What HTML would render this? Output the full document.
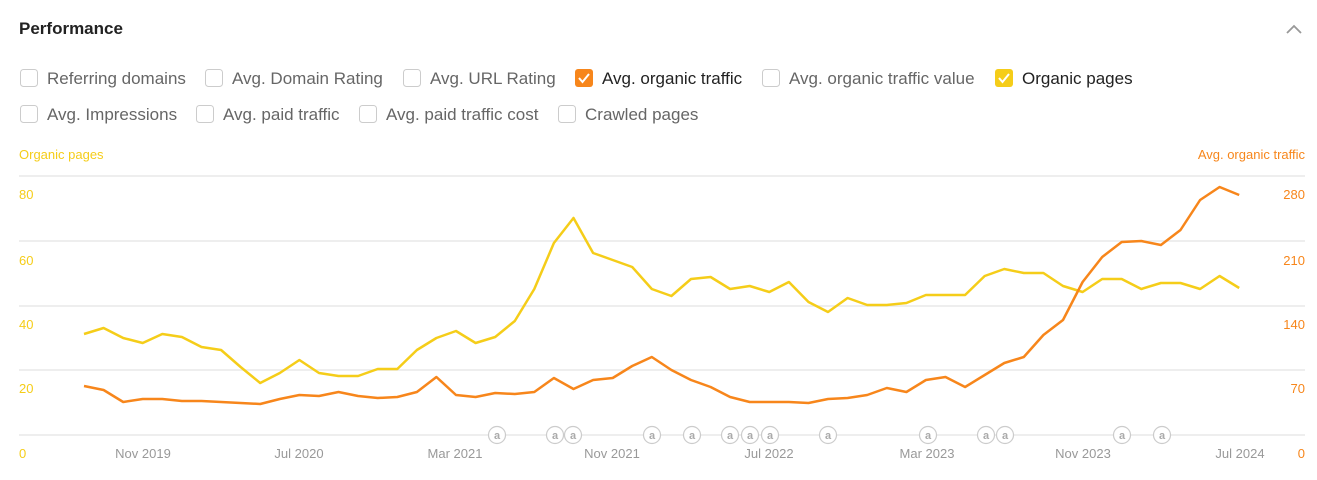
<!DOCTYPE html>
<html><head><meta charset="utf-8"><style>
body{margin:0;background:#fff;width:1317px;height:475px;overflow:hidden;font-family:"Liberation Sans",Arial,sans-serif}
</style></head><body>
<svg width="1317" height="475" xmlns="http://www.w3.org/2000/svg" font-family="Liberation Sans, Arial, sans-serif">
<text x="19" y="34" font-size="17" font-weight="bold" fill="#222">Performance</text>
<polyline points="1287,33 1294,26 1301,33" fill="none" stroke="#999" stroke-width="1.8"/>
<g font-size="17" fill="#666">
<rect x="20.5" y="69.5" width="17" height="17" rx="3" fill="#fff" stroke="#ccc"/><text x="47" y="84">Referring domains</text>
<rect x="205.5" y="69.5" width="17" height="17" rx="3" fill="#fff" stroke="#ccc"/><text x="232" y="84">Avg. Domain Rating</text>
<rect x="403.5" y="69.5" width="17" height="17" rx="3" fill="#fff" stroke="#ccc"/><text x="430" y="84">Avg. URL Rating</text>
<rect x="575" y="69" width="18" height="18" rx="3" fill="#f7861b"/><polyline points="579,78 582.5,82 589,74" fill="none" stroke="#fff" stroke-width="2"/><text x="602" y="84" fill="#222">Avg. organic traffic</text>
<rect x="762.5" y="69.5" width="17" height="17" rx="3" fill="#fff" stroke="#ccc"/><text x="789" y="84">Avg. organic traffic value</text>
<rect x="995" y="69" width="18" height="18" rx="3" fill="#f5cd19"/><polyline points="999,78 1002.5,82 1009,74" fill="none" stroke="#fff" stroke-width="2"/><text x="1022" y="84" fill="#222">Organic pages</text>
<rect x="20.5" y="105.5" width="17" height="17" rx="3" fill="#fff" stroke="#ccc"/><text x="47" y="120">Avg. Impressions</text>
<rect x="196.5" y="105.5" width="17" height="17" rx="3" fill="#fff" stroke="#ccc"/><text x="223" y="120">Avg. paid traffic</text>
<rect x="359.5" y="105.5" width="17" height="17" rx="3" fill="#fff" stroke="#ccc"/><text x="386" y="120">Avg. paid traffic cost</text>
<rect x="558.5" y="105.5" width="17" height="17" rx="3" fill="#fff" stroke="#ccc"/><text x="585" y="120">Crawled pages</text>
</g>
<text x="19" y="159" font-size="13" fill="#f5cd19">Organic pages</text>
<text x="1305" y="159" font-size="13" fill="#f7861b" text-anchor="end">Avg. organic traffic</text>
<g stroke="#e8e8e8" stroke-width="1.5">
<line x1="19" y1="176" x2="1305" y2="176"/><line x1="19" y1="241" x2="1305" y2="241"/><line x1="19" y1="306" x2="1305" y2="306"/><line x1="19" y1="370" x2="1305" y2="370"/><line x1="19" y1="435" x2="1305" y2="435"/>
</g>
<g font-size="13" fill="#f5cd19">
<text x="19" y="199">80</text><text x="19" y="265">60</text><text x="19" y="329">40</text><text x="19" y="393">20</text><text x="19" y="458">0</text>
</g>
<g font-size="13" fill="#f7861b" text-anchor="end">
<text x="1305" y="199">280</text><text x="1305" y="265">210</text><text x="1305" y="329">140</text><text x="1305" y="393">70</text><text x="1305" y="458">0</text>
</g>
<g font-size="13" fill="#999" text-anchor="middle">
<text x="143" y="458">Nov 2019</text><text x="299" y="458">Jul 2020</text><text x="455" y="458">Mar 2021</text><text x="612" y="458">Nov 2021</text><text x="769" y="458">Jul 2022</text><text x="927" y="458">Mar 2023</text><text x="1083" y="458">Nov 2023</text><text x="1240" y="458">Jul 2024</text>
</g>
<g font-size="11" font-weight="bold" fill="#aaa" text-anchor="middle">
<g stroke="#ccc" stroke-width="1.2" fill="#fff">
<circle cx="497" cy="435" r="8.5"/><circle cx="555" cy="435" r="8.5"/><circle cx="573" cy="435" r="8.5"/><circle cx="652" cy="435" r="8.5"/><circle cx="692" cy="435" r="8.5"/><circle cx="730" cy="435" r="8.5"/><circle cx="750" cy="435" r="8.5"/><circle cx="770" cy="435" r="8.5"/><circle cx="828" cy="435" r="8.5"/><circle cx="928" cy="435" r="8.5"/><circle cx="986" cy="435" r="8.5"/><circle cx="1005" cy="435" r="8.5"/><circle cx="1122" cy="435" r="8.5"/><circle cx="1162" cy="435" r="8.5"/>
</g>
<text x="497" y="439">a</text><text x="555" y="439">a</text><text x="573" y="439">a</text><text x="652" y="439">a</text><text x="692" y="439">a</text><text x="730" y="439">a</text><text x="750" y="439">a</text><text x="770" y="439">a</text><text x="828" y="439">a</text><text x="928" y="439">a</text><text x="986" y="439">a</text><text x="1005" y="439">a</text><text x="1122" y="439">a</text><text x="1162" y="439">a</text>
</g>
<polyline fill="none" stroke="#f5cd19" stroke-width="2.5" stroke-linejoin="round" points="84,334 103.6,328 123.2,338 142.7,343 162.3,334 181.9,337 201.5,347 221.1,350 240.6,367 260.2,383 279.8,373 299.4,360 319,373 338.5,376 358.1,376 377.7,369 397.3,369 416.9,350 436.4,338 456,331 475.6,343 495.2,337 514.8,321 534.3,289 553.9,243 573.5,218 593.1,253 612.7,260 632.2,267 651.8,289 671.4,296 691,279 710.6,277 730.1,289 749.7,286 769.3,292 788.9,282 808.5,302 828,312 847.6,298 867.2,305 886.8,305 906.4,303 925.9,295 945.5,295 965.1,295 984.7,276 1004.3,269 1023.8,273 1043.4,273 1063,286 1082.6,292 1102.2,279 1121.7,279 1141.3,289 1160.9,283 1180.5,283 1200.1,289 1219.6,276 1239.2,288"/>
<polyline fill="none" stroke="#f7861b" stroke-width="2.5" stroke-linejoin="round" points="84,386 103.6,390 123.2,402 142.7,399 162.3,399 181.9,401 201.5,401 221.1,402 240.6,403 260.2,404 279.8,399 299.4,395 319,396 338.5,392 358.1,396 377.7,398 397.3,397 416.9,392 436.4,377 456,395 475.6,397 495.2,393 514.8,394 534.3,392 553.9,378 573.5,389 593.1,380 612.7,378 632.2,366 651.8,357 671.4,370 691,380 710.6,387 730.1,397 749.7,402 769.3,402 788.9,402 808.5,403 828,399 847.6,398 867.2,395 886.8,388 906.4,392 925.9,380 945.5,377 965.1,387 984.7,375 1004.3,363 1023.8,357 1043.4,335 1063,320 1082.6,282 1102.2,257 1121.7,242 1141.3,241 1160.9,245 1180.5,230 1200.1,200 1219.6,187 1239.2,195"/>
</svg>
</body></html>
